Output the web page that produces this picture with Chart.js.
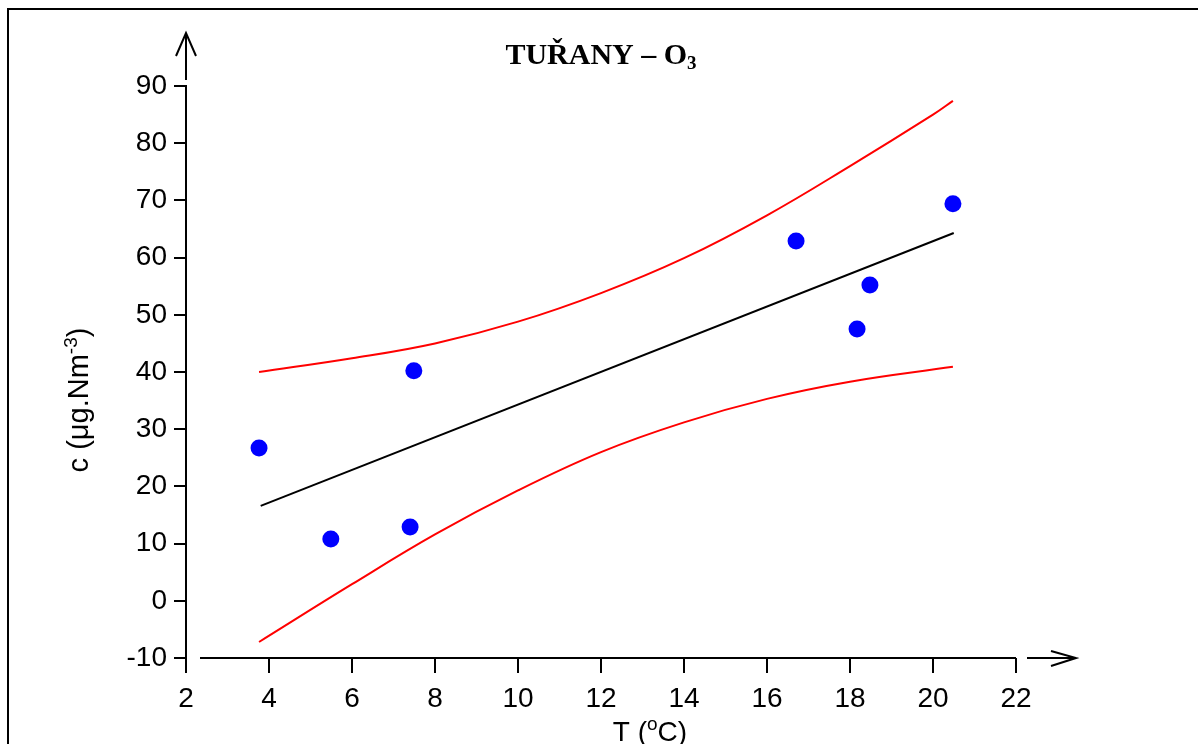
<!DOCTYPE html>
<html>
<head>
<meta charset="utf-8">
<title>Tuřany - O3</title>
<script src="https://cdn.jsdelivr.net/npm/chart.js@4.4.1/dist/chart.umd.min.js"></script>
<style>
  body { margin: 0; background: #fff; }
</style>
</head>
<body>
<canvas id="chart" width="1198" height="744"></canvas>
<script>
// measured points: temperature (oC) vs concentration
const pointT = [3.76, 5.49, 7.40, 7.49, 16.70, 18.17, 18.48, 20.48];
const pointC = [26.7, 10.8, 12.9, 40.2, 62.9, 47.5, 55.2, 69.4];

// regression line (ends)
const fitT = [3.8, 20.5];
const fitC = [16.6, 64.3];

// upper confidence band
const upperT = [3.76, 6, 8, 10, 12, 14, 16, 18, 20, 20.48];
const upperC = [40.0, 42.4, 45.0, 48.8, 53.8, 59.9, 67.4, 76.0, 85.0, 87.4];

// lower confidence band
const lowerT = [3.76, 6, 8, 10, 12, 14, 16, 18, 20.48];
const lowerC = [-7.2, 2.9, 11.6, 19.3, 26.0, 31.2, 35.3, 38.3, 40.9];

const xMin = 2, xMax = 22, xStep = 2;
const yMin = -10, yMax = 90, yStep = 10;

function toXY(xs, ys) {
    return xs.map((x, i) => ({ x: x, y: ys[i] }));
}

const SANS = '"Liberation Sans", Arial, sans-serif';
const SERIF = '"Liberation Serif", "Times New Roman", serif';

////////////////////////////////////////////////////////////////////////////////

// draws a run of [text, font, dy] parts centred on cx
function drawParts(ctx, parts, cx, cy) {
    let total = 0;
    parts.forEach(p => { ctx.font = p[1]; total += ctx.measureText(p[0]).width; });
    let x = cx - total / 2;
    parts.forEach(p => {
        ctx.font = p[1];
        ctx.fillText(p[0], x, cy + p[2]);
        x += ctx.measureText(p[0]).width;
    });
}

const decor = {
    id: 'decor',
    beforeDraw(chart) {
        const ctx = chart.ctx;
        ctx.save();
        ctx.fillStyle = '#fff';
        ctx.fillRect(0, 0, chart.width, chart.height);
        // frame round the figure
        ctx.strokeStyle = '#000';
        ctx.lineWidth = 2;
        ctx.beginPath();
        ctx.moveTo(8, chart.height);
        ctx.lineTo(8, 9);
        ctx.lineTo(chart.width, 9);
        ctx.stroke();
        ctx.restore();
    },
    afterDraw(chart) {
        const ctx = chart.ctx;
        const a = chart.chartArea;
        ctx.save();
        ctx.strokeStyle = '#000';
        ctx.lineWidth = 2;

        // x axis line (starts a little right of the y axis)
        ctx.beginPath();
        ctx.moveTo(a.left + 14, a.bottom);
        ctx.lineTo(a.right, a.bottom);
        ctx.stroke();

        // y arrow
        const ax = a.left;
        ctx.beginPath();
        ctx.moveTo(ax, a.top - 6);
        ctx.lineTo(ax, a.top - 53);
        ctx.moveTo(ax - 10, a.top - 30);
        ctx.lineTo(ax, a.top - 53);
        ctx.lineTo(ax + 10, a.top - 30);
        ctx.stroke();

        // x arrow
        const ay = a.bottom;
        ctx.beginPath();
        ctx.moveTo(a.right + 11, ay);
        ctx.lineTo(a.right + 60, ay);
        ctx.moveTo(a.right + 35, ay - 7);
        ctx.lineTo(a.right + 60, ay);
        ctx.lineTo(a.right + 35, ay + 8);
        ctx.stroke();

        ctx.fillStyle = '#000';
        ctx.textBaseline = 'alphabetic';
        ctx.textAlign = 'left';

        // title
        drawParts(ctx, [
            ['TUŘANY – O', 'bold 30px ' + SERIF, 0],
            ['3', 'bold 19px ' + SERIF, 5]
        ], 601, 64);

        // x axis title
        drawParts(ctx, [
            ['T (', '28px ' + SANS, 0],
            ['o', '19px ' + SANS, -11],
            ['C)', '28px ' + SANS, 0]
        ], 650, 741);

        // y axis title
        ctx.translate(88, 400);
        ctx.rotate(-Math.PI / 2);
        drawParts(ctx, [
            ['c (μg.Nm', '29px ' + SANS, 0],
            ['-3', '19px ' + SANS, -11],
            [')', '29px ' + SANS, 0]
        ], 0, 0);

        ctx.restore();
    }
};

////////////////////////////////////////////////////////////////////////////////

document.addEventListener('DOMContentLoaded', function() {

    const data = {
        datasets: [
            {
                label: 'upper',
                data: toXY(upperT, upperC),
                showLine: true,
                borderColor: '#ff0000',
                borderWidth: 2,
                pointRadius: 0,
                tension: 0.4
            },
            {
                label: 'lower',
                data: toXY(lowerT, lowerC),
                showLine: true,
                borderColor: '#ff0000',
                borderWidth: 2,
                pointRadius: 0,
                tension: 0.4
            },
            {
                label: 'fit',
                data: toXY(fitT, fitC),
                showLine: true,
                borderColor: '#000000',
                borderWidth: 2,
                pointRadius: 0
            },
            {
                label: 'measured',
                data: toXY(pointT, pointC),
                showLine: false,
                backgroundColor: '#0000ff',
                borderColor: '#0000ff',
                borderWidth: 0,
                pointRadius: 8.5
            }
        ]
    };

    const config = {
        type: 'scatter',
        data: data,
        plugins: [decor],
        options: {
            responsive: false,
            animation: false,
            layout: { padding: { left: 0, top: 86, right: 182, bottom: 0 } },
            plugins: {
                legend: { display: false },
                title: { display: false },
                tooltip: { enabled: false }
            },
            scales: {
                x: {
                    type: 'linear',
                    min: xMin,
                    max: xMax,
                    afterFit: s => { s.height = 86; },
                    ticks: {
                        stepSize: xStep,
                        color: '#000',
                        padding: 9,
                        maxRotation: 0,
                        font: { family: SANS, size: 28 }
                    },
                    grid: {
                        display: true,
                        drawOnChartArea: false,
                        drawTicks: true,
                        tickLength: 15,
                        color: '#000',
                        lineWidth: 2
                    },
                    border: { display: false }
                },
                y: {
                    type: 'linear',
                    min: yMin,
                    max: yMax,
                    afterFit: s => { s.width = 186; },
                    ticks: {
                        stepSize: yStep,
                        color: '#000',
                        padding: 7,
                        font: { family: SANS, size: 28 }
                    },
                    grid: {
                        display: true,
                        drawOnChartArea: false,
                        drawTicks: true,
                        tickLength: 12,
                        color: '#000',
                        lineWidth: 2
                    },
                    border: { display: true, color: '#000', width: 2 }
                }
            }
        }
    };

    new Chart(document.getElementById('chart'), config);
});
</script>
</body>
</html>
